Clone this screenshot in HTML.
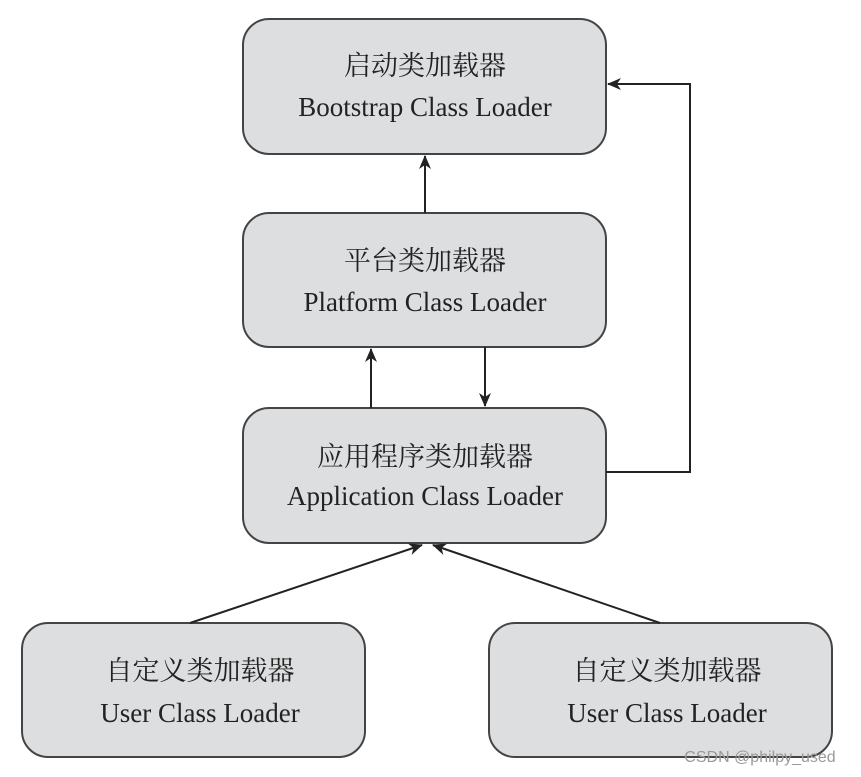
<!DOCTYPE html>
<html><head><meta charset="utf-8"><style>
html,body{margin:0;padding:0;background:#fff;}
svg{display:block;}
text{font-family:"Liberation Serif","Noto Serif CJK SC",serif;fill:#222;text-anchor:middle;}
.cn{font-size:27px;}
.en{font-size:27px;}
</style></head><body>
<svg width="861" height="777" viewBox="0 0 861 777" xmlns="http://www.w3.org/2000/svg">
<defs><marker id="a" markerWidth="14" markerHeight="12" refX="13" refY="6" orient="auto" markerUnits="userSpaceOnUse"><path d="M0,0 L14,6 L0,12 L4,6 Z" fill="#222"/></marker></defs>
<g fill="#dcdedf" stroke="#444" stroke-width="2">
<rect x="243" y="19" width="363" height="135" rx="26"/>
<rect x="243" y="213" width="363" height="134" rx="26"/>
<rect x="243" y="408" width="363" height="135" rx="26"/>
<rect x="22" y="623" width="343" height="134" rx="26"/>
<rect x="489" y="623" width="343" height="134" rx="26"/>
</g>
<g stroke="#222" stroke-width="2" fill="none">
<line x1="425" y1="213" x2="425" y2="156" marker-end="url(#a)"/>
<line x1="371" y1="408" x2="371" y2="349" marker-end="url(#a)"/>
<line x1="485" y1="347" x2="485" y2="406" marker-end="url(#a)"/>
<polyline points="606,472 690,472 690,84 608,84" marker-end="url(#a)"/>
<line x1="190" y1="623" x2="422" y2="545" marker-end="url(#a)"/>
<line x1="660" y1="623" x2="433" y2="545" marker-end="url(#a)"/>
</g>
<text class="cn" x="425" y="75">启动类加载器</text>
<text class="en" x="425" y="116">Bootstrap Class Loader</text>
<text class="cn" x="425" y="270">平台类加载器</text>
<text class="en" x="425" y="311">Platform Class Loader</text>
<text class="cn" x="425" y="466">应用程序类加载器</text>
<text class="en" x="425" y="505">Application Class Loader</text>
<text class="cn" x="200" y="680">自定义类加载器</text>
<text class="en" x="200" y="722">User Class Loader</text>
<text class="cn" x="667" y="680">自定义类加载器</text>
<text class="en" x="667" y="722">User Class Loader</text>
<text x="760" y="762" style="font-family:'Liberation Sans',sans-serif;font-size:16px;fill:#999">CSDN @philpy_used</text>
</svg>
</body></html>
